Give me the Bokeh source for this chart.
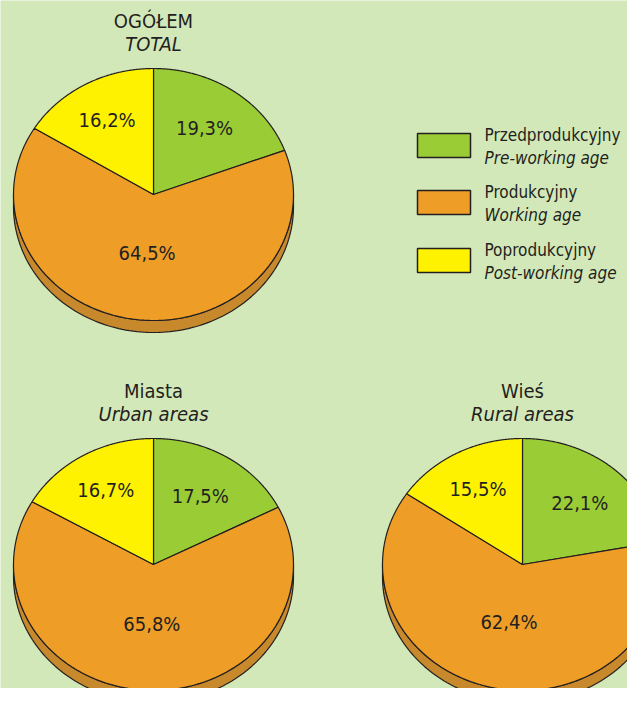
import numpy as np
from bokeh.plotting import figure
from bokeh.models import Range1d
from bokeh.core.properties import value
from bokeh.embed import file_html
from bokeh.resources import INLINE

# ---------------- data ----------------
categories_pl = ["Przedprodukcyjny", "Produkcyjny", "Poprodukcyjny"]
categories_en = ["Pre-working age", "Working age", "Post-working age"]
titles_pl = ["OGÓŁEM", "Miasta", "Wieś"]
titles_en = ["TOTAL", "Urban areas", "Rural areas"]
total_values = [19.3, 64.5, 16.2]
urban_values = [17.5, 65.8, 16.7]
rural_values = [22.1, 62.4, 15.5]

# ---------------- style / layout ----------------
BG = "#d3e8b8"
FILLS = ["#9acd35", "#ee9d27", "#fff200"]
SIDES = ["#7da82a", "#c8892c", "#d2c700"]
EDGE = "#231f20"
TXT = "#231f20"
FONT = "DejaVu Sans Condensed"
FS = "20px"
FS_LEG = "17px"
CENTERS = [(153, 194), (153, 564), (522, 564)]
RX, RY, DEPTH = 140, 126, 12
LABEL_R = [0.64, 0.47, 0.68]

W, H = 627, 688
p = figure(width=W, height=H, output_backend="svg", toolbar_location=None,
           x_range=Range1d(0, W), y_range=Range1d(H, 0),
           min_border=0, background_fill_color=BG, border_fill_color=BG,
           outline_line_color=None)
p.axis.visible = False
p.grid.visible = False


def arc_pts(cx, cy, a0, a1, n=120):
    t = np.radians(np.linspace(a0, a1, n))
    return cx + RX * np.cos(t), cy - RY * np.sin(t)


def draw_pie(cx, cy, vals, title_pl, title_en):
    fracs = np.array(vals) / sum(vals)
    starts = 90 - 360 * np.concatenate([[0], np.cumsum(fracs)[:-1]])
    ends = 90 - 360 * np.cumsum(fracs)
    # side band (lower half of the ellipse)
    for s, e, col in zip(starts, ends, SIDES):
        for off in (0, 360):
            a_hi, a_lo = s + off, e + off
            lo, hi = max(a_lo, -180), min(a_hi, 0)
            if hi > lo:
                xt, yt = arc_pts(cx, cy, hi, lo)
                xs = np.concatenate([xt, xt[::-1]])
                ys = np.concatenate([yt, (yt + DEPTH)[::-1]])
                p.patch(xs, ys, fill_color=col, line_color=EDGE, line_width=1.2)
    # top face
    for s, e, col in zip(starts, ends, FILLS):
        xa, ya = arc_pts(cx, cy, s, e, 200)
        xs = np.concatenate([[cx], xa, [cx]])
        ys = np.concatenate([[cy], ya, [cy]])
        p.patch(xs, ys, fill_color=col, line_color=EDGE, line_width=1.2)
    # labels
    mids = (starts + ends) / 2
    lx = [cx + r * RX * np.cos(np.radians(m)) for m, r in zip(mids, LABEL_R)]
    ly = [cy - r * RY * np.sin(np.radians(m)) for m, r in zip(mids, LABEL_R)]
    txt = [f"{v:.1f}%".replace(".", ",") for v in vals]
    p.text(lx, ly, text=txt, text_font=value(FONT), text_font_size=FS,
           text_color=TXT, text_align="center", text_baseline="middle")
    p.text([cx], [cy - 174], text=[title_pl], text_font=value(FONT),
           text_font_size=FS, text_color=TXT, text_align="center",
           text_baseline="middle")
    p.text([cx], [cy - 151], text=[title_en], text_font=value(FONT),
           text_font_size=FS, text_font_style="italic", text_color=TXT,
           text_align="center", text_baseline="middle")


for (cx, cy), vals, tp, te in zip(CENTERS, [total_values, urban_values, rural_values],
                                  titles_pl, titles_en):
    draw_pie(cx, cy, vals, tp, te)

# legend
leg_y = [145, 202, 260]
p.rect([443.5] * 3, leg_y, width=53, height=24, fill_color=FILLS,
       line_color=EDGE, line_width=1.5)
p.text([484] * 3, [y - 11 for y in leg_y], text=categories_pl, text_font=value(FONT),
       text_font_size=FS_LEG, text_color=TXT, text_align="left",
       text_baseline="middle")
p.text([484] * 3, [y + 12 for y in leg_y], text=categories_en, text_font=value(FONT),
       text_font_size=FS_LEG, text_font_style="italic", text_color=TXT,
       text_align="left", text_baseline="middle")

open("out.html", "w").write(file_html(p, INLINE))
